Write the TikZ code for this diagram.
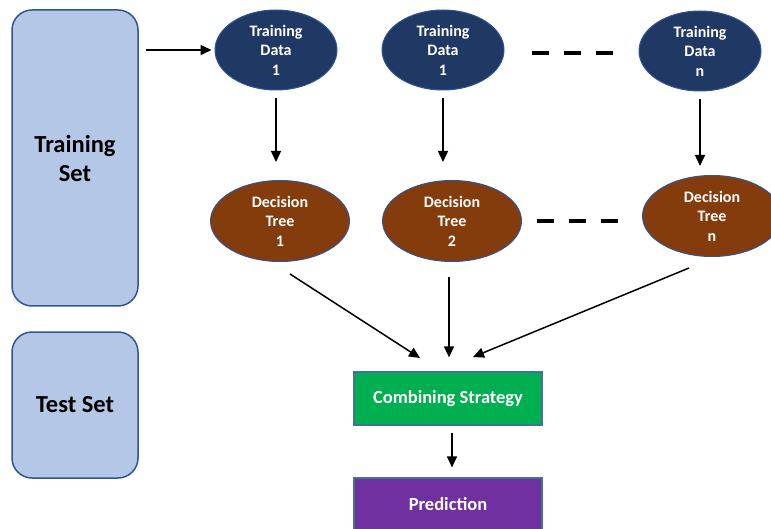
\documentclass[tikz,border=0pt]{standalone}
\usepackage{fontspec}
\setmainfont{Carlito}
\usetikzlibrary{arrows.meta,shapes.geometric}
\definecolor{setfill}{HTML}{B4C7E7}
\definecolor{setline}{HTML}{2F5597}
\definecolor{datafill}{HTML}{203864}
\definecolor{treefill}{HTML}{843C0C}
\definecolor{combfill}{HTML}{00B050}
\definecolor{predfill}{HTML}{7030A0}
\definecolor{boxline}{HTML}{41719C}
\tikzset{
  setbox/.style={draw=setline, line width=1.5pt, fill=setfill, rounded corners=20pt,
    minimum width=126pt, inner sep=0pt, align=center, font=\bfseries\fontsize{24.5}{29}\selectfont},
  datanode/.style={ellipse, draw=setline, line width=1pt, fill=datafill, text=white,
    minimum width=122pt, minimum height=80pt, inner sep=0pt, align=center,
    font=\bfseries\fontsize{16}{19.5}\selectfont},
  treenode/.style={ellipse, draw=setline, line width=1pt, fill=treefill, text=white,
    minimum width=139pt, minimum height=81pt, inner sep=0pt, align=center,
    font=\bfseries\fontsize{16}{19.5}\selectfont},
  stagebox/.style={draw=boxline, line width=1.2pt, text=white, minimum width=188pt,
    minimum height=53pt, inner sep=0pt, font=\bfseries\fontsize{18.5}{22}\selectfont},
  arr/.style={line width=1.5pt, -{Triangle[length=11pt,width=10pt]}},
  gapline/.style={line width=4pt, dash pattern=on 17pt off 15pt},
}
\begin{document}
\begin{tikzpicture}[x=1pt,y=-1pt]
\useasboundingbox (0,0) rectangle (771,529);
% left-hand data sets
\node[setbox, minimum height=296pt] (ts) at (75,158) {Training\\Set};
\node[setbox, minimum height=146pt] (tst) at (75,405) {\raisebox{-2pt}{Test Set}};
% bootstrap samples
\node[datanode] (td1) at (276,50) {Training\\Data\\1};
\node[datanode] (td2) at (443,50) {Training\\Data\\1};
\node[datanode] (tdn) at (700,51) {Training\\Data\\n};
% trees
\node[treenode] (dt1) at (280,221) {Decision\\Tree\\1};
\node[treenode] (dt2) at (452,221) {Decision\\Tree\\2};
\node[treenode] (dtn) at (712,216) {Decision\\Tree\\n};
% aggregation and output
\node[stagebox, fill=combfill] (comb) at (448,398.5) {\raisebox{-2pt}{Combining Strategy}};
\node[stagebox, fill=predfill] (pred) at (448,504.5) {Prediction};
% connectors
\draw[arr, shorten <=7pt, shorten >=3pt] (ts.east |- td1) -- (td1.west);
\draw[arr, shorten <=8pt, shorten >=18pt] (td1.south) -- (td1.south |- dt1.north);
\draw[arr, shorten <=8pt, shorten >=18pt] (td2.south) -- (td2.south |- dt2.north);
\draw[arr, shorten <=8pt, shorten >=9pt] (tdn.south) -- (tdn.south |- dtn.north);
\draw[gapline] (td2.east |- 0,53) ++(27,0) coordinate (g1) -- ++(81,0) coordinate (g2);
\draw[gapline] (dt2.east |- 0,221) ++(15,0) coordinate (g3) -- ++(81,0) coordinate (g4);
\coordinate (a1) at (290,274);
\coordinate (a3) at (689,268);
\draw[arr] (a1) -- (420,358);
\draw[arr, shorten <=15pt, shorten >=14pt] (449,262) -- (comb.north -| 449,0);
\draw[arr] (a3) -- (473,357);
\draw[arr, shorten <=7pt, shorten >=10pt] (comb.south -| 452,0) -- (pred.north -| 452,0);
\end{tikzpicture}
\end{document}
